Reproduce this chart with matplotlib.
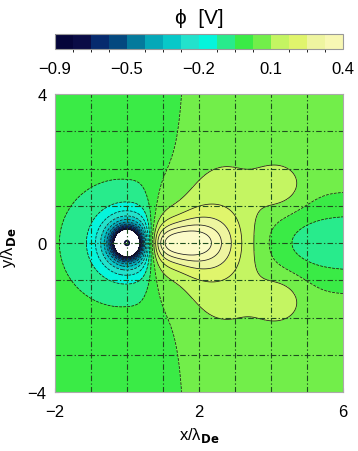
import numpy as np
import matplotlib
matplotlib.use("Agg")
import matplotlib.pyplot as plt
from matplotlib.colors import ListedColormap, BoundaryNorm
import matplotlib.colorbar as mcolorbar

plt.rcParams['font.family'] = ['Liberation Sans', 'DejaVu Sans']

# colour scale of the potential, in V
phi_min, phi_max = -0.9, 0.4
n_bands = 16
band_colors = ['#05053a', '#0a0c46', '#062a6e', '#04487f', '#047a9c', '#05a8b8',
               '#08c8c8', '#22e2cc', '#05f5dc', '#28eb8c', '#3aeb46', '#72ee4a',
               '#c4f562', '#e0f56c', '#eef5a0', '#f8f8b4']
over_color = '#fbfbc8'
cbar_ticks = [-0.9, -0.575, -0.25, 0.075, 0.4]
cbar_labels = ['\u22120.9', '\u22120.5', '\u22120.2', '0.1', '0.4']

# axes
x_lim = [-2, 6]
y_lim = [-4, 4]
x_ticks = [-2, 2, 6]
y_ticks = [-4, 0, 4]
grid_x = [-1, 0, 1, 2, 3, 4, 5]
grid_y = [-3, -2, -1, 0, 1, 2, 3]

# potential pieces, values
grain = [0.48, 0.85]                                    # charge term, screening length
background = [-0.05, 0.025, 1.6, 0.5, 0.005]            # left, right, step position, step width, upstream slope
wake_core = [0.60, 0.64, 0.12, 1.25, 1.75, 0.6, 1.3, 0.18]  # amp, start, start width, x peak, x width, y width, growth from, growth
wake_lobes = [0.08, 4.3, 1.45, 0.7, 0.7]                # amp, x, +-y, x width, y width
downstream = [0.19, 4.06, 0.68, 1.03]                   # depth, front, front width, y width
grain_ring = 0.06

x = np.linspace(x_lim[0], x_lim[1], 481)
y = np.linspace(y_lim[0], y_lim[1], 481)
X, Y = np.meshgrid(x, y)
R = np.maximum(np.hypot(X, Y), 0.03)

q, L = grain
phi = -q * np.exp(-R / L) / R
bl, br, xb, wb, bs = background
phi += bl + (br - bl) * 0.5 * (1 + np.tanh((X - xb) / wb)) + bs * np.minimum(X, 0)
A, xs, ws, xp, sx, a0, xa, a1 = wake_core
start = 1 / (1 + np.exp(-(X - xs) / ws))
width = a0 + a1 * np.maximum(X - xa, 0) ** 2
phi += A * start * np.exp(-((X - xp) / sx) ** 2) / (1 + (Y / width) ** 2)
Bl, xl, yl, sxl, syl = wake_lobes
for sgn in (1, -1):
    phi += Bl * np.exp(-((X - xl) / sxl) ** 2 - ((Y - sgn * yl) / syl) ** 2)
B, xd, wd, sdy = downstream
phi -= B / (1 + np.exp(-(X - xd) / wd)) * np.exp(-(Y / sdy) ** 2)

levels = np.linspace(phi_min, phi_max, n_bands + 1)
cmap = ListedColormap(band_colors)
cmap.set_over(over_color)
norm = BoundaryNorm(levels, n_bands)

fig = plt.figure(figsize=(3.58, 4.52), dpi=100)
ax = fig.add_axes([55 / 358, 1 - 393 / 452, 288 / 358, 298 / 452])
ax.contourf(X, Y, phi, levels=levels, cmap=cmap, norm=norm, extend='max')
ax.contour(X, Y, phi, levels=levels, colors='#1a1a1a', linewidths=0.55)
ax.add_patch(plt.Circle((0, 0), grain_ring, fill=False, ec='#05053a', lw=1.3))

for gx in grid_x:
    ax.axvline(gx, color='#1f4f1f', lw=0.8, dashes=(5, 2, 1.2, 2))
for gy in grid_y:
    ax.axhline(gy, color='#1f4f1f', lw=0.8, dashes=(5, 2, 1.2, 2))

ax.set_xlim(x_lim)
ax.set_ylim(y_lim)
ax.set_xticks(x_ticks)
ax.set_yticks(y_ticks)
ax.set_xticks(range(-2, 7), minor=True)
ax.set_yticks(range(-4, 5), minor=True)
ax.set_xticklabels(['\u22122', '2', '6'])
ax.set_yticklabels(['\u22124', '0', '4'])
ax.tick_params(which='both', direction='in', length=3, color='#888888')
ax.tick_params(axis='x', labelsize=12, pad=9)
ax.tick_params(axis='y', labelsize=12, pad=6)
for sp in ax.spines.values():
    sp.set_color('#aaaaaa')
ax.set_xlabel('x/\u03bb$_{\\mathbf{De}}$', fontsize=12, labelpad=4)
fig.text(9 / 358, 1 - 248 / 452, 'y/\u03bb$_{\\mathbf{De}}$', fontsize=12,
         rotation=90, ha='center', va='center')

cax = fig.add_axes([55 / 358, 1 - 50 / 452, 288 / 358, 15 / 452])
cb = mcolorbar.ColorbarBase(cax, cmap=cmap, norm=norm, orientation='horizontal',
                            boundaries=levels, ticks=cbar_ticks)
cb.set_ticklabels(cbar_labels)
cb.outline.set_edgecolor('#999999')
cax.tick_params(length=0, labelsize=12, pad=9)
fig.text(199 / 358, 1 - 19 / 452, '\u03d5  [V]', fontsize=15, ha='center', va='center')

fig.savefig('out.png', dpi=100)
